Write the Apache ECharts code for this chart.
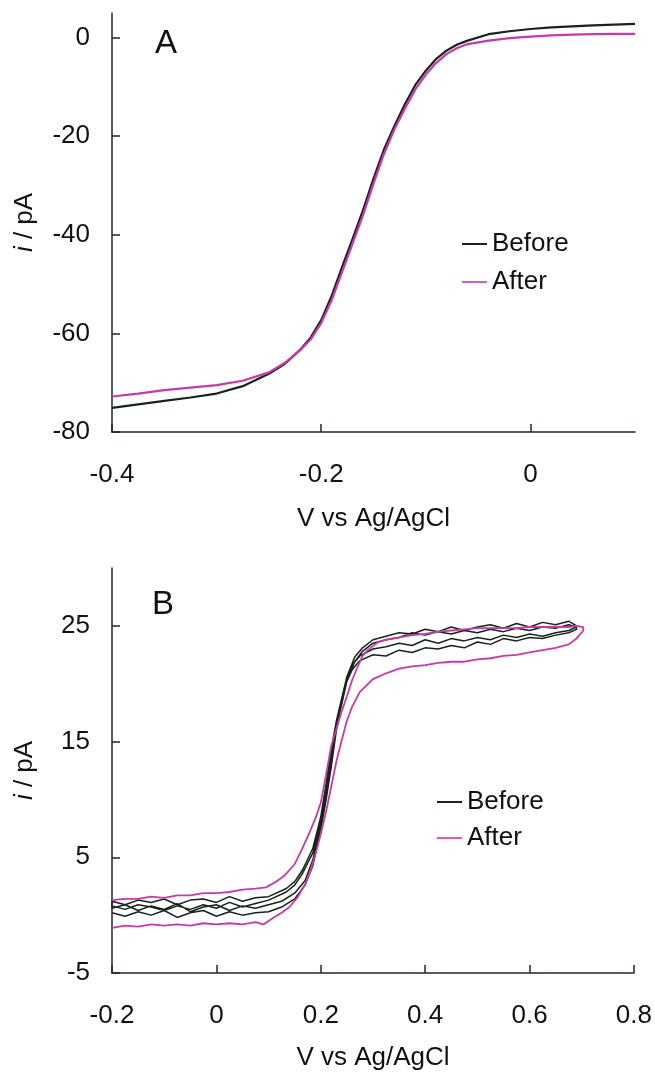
<!DOCTYPE html>
<html>
<head>
<meta charset="utf-8">
<script src="https://cdn.jsdelivr.net/npm/echarts@6/dist/echarts.min.js"></script>
<style>
  html, body { margin: 0; padding: 0; background: #fff; }
  #main { width: 655px; height: 1072px; }
</style>
</head>
<body>
<div id="main"></div>
<script>
// panel A: steady-state voltammogram, [V, i]
const beforeA = [
  [-0.4, -75.1], [-0.375, -74.4], [-0.35, -73.7], [-0.325, -73.0], [-0.3, -72.2],
  [-0.275, -70.7], [-0.25, -68.2], [-0.235, -66.2], [-0.22, -63.3], [-0.21, -60.8],
  [-0.2, -57.3], [-0.19, -52.4], [-0.18, -46.5], [-0.17, -40.8], [-0.16, -35.0],
  [-0.15, -28.6], [-0.14, -22.7], [-0.13, -17.9], [-0.12, -13.5], [-0.11, -9.6],
  [-0.1, -6.7], [-0.09, -4.3], [-0.08, -2.6], [-0.07, -1.4], [-0.06, -0.6],
  [-0.04, 0.7], [-0.02, 1.3], [0, 1.75], [0.02, 2.1], [0.04, 2.3],
  [0.06, 2.5], [0.08, 2.65], [0.1, 2.8]
]
const afterA = [
  [-0.4, -72.8], [-0.375, -72.2], [-0.35, -71.5], [-0.325, -71.0], [-0.3, -70.5],
  [-0.275, -69.6], [-0.25, -67.9], [-0.235, -66.0], [-0.22, -63.4], [-0.21, -61.2],
  [-0.2, -57.9], [-0.19, -53.3], [-0.18, -47.5], [-0.17, -41.8], [-0.16, -36.0],
  [-0.15, -29.6], [-0.14, -23.6], [-0.13, -18.6], [-0.12, -14.4], [-0.11, -10.5],
  [-0.1, -7.5], [-0.09, -5.1], [-0.08, -3.3], [-0.07, -2.1], [-0.06, -1.3],
  [-0.04, -0.6], [-0.02, -0.1], [0, 0.2], [0.02, 0.45], [0.04, 0.6],
  [0.06, 0.7], [0.08, 0.75], [0.1, 0.75]
]

// panel B: cyclic scans, forward then reverse
const beforeFwd1 = [
  [-0.2, 0.2], [-0.175, -0.1], [-0.15, 0.3], [-0.125, 0.0], [-0.1, 0.4], [-0.075, -0.2],
  [-0.05, 0.2], [-0.025, 0.4], [0, -0.1], [0.025, 0.3], [0.05, 0.0], [0.075, 0.2], [0.1, 0.3],
  [0.125, 0.7], [0.15, 1.4], [0.17, 2.6], [0.185, 4.3], [0.2, 7.4], [0.21, 9.9], [0.22, 12.8],
  [0.23, 16.0], [0.24, 18.3], [0.25, 20.2], [0.26, 21.2], [0.275, 22.0],
  [0.3, 22.5], [0.325, 22.4], [0.35, 22.9], [0.375, 22.7], [0.4, 23.1], [0.425, 23.0],
  [0.45, 23.3], [0.475, 23.1], [0.5, 23.6], [0.525, 23.4], [0.55, 23.9], [0.575, 23.7],
  [0.6, 24.0], [0.625, 23.9], [0.65, 24.2], [0.675, 24.4], [0.69, 24.7]
]
const beforeRev1 = [
  [0.69, 25.0], [0.675, 25.4], [0.65, 25.1], [0.625, 25.3], [0.6, 24.9], [0.575, 25.2],
  [0.55, 24.8], [0.525, 25.1], [0.5, 24.9], [0.475, 24.6], [0.45, 24.9], [0.425, 24.5],
  [0.4, 24.7], [0.375, 24.3], [0.35, 24.4], [0.325, 24.1], [0.3, 23.8],
  [0.28, 23.1], [0.265, 22.3], [0.25, 20.6], [0.24, 18.7], [0.23, 16.8], [0.22, 14.3],
  [0.21, 11.3], [0.2, 8.5], [0.185, 5.8], [0.165, 3.9], [0.15, 2.9], [0.134, 2.3], [0.1, 1.6],
  [0.075, 1.5], [0.05, 1.2], [0.025, 1.6], [0, 1.1], [-0.025, 1.4], [-0.05, 1.3],
  [-0.075, 0.9], [-0.1, 1.4], [-0.125, 1.1], [-0.15, 1.3], [-0.175, 0.9], [-0.2, 1.2]
]
const beforeFwd2 = [
  [-0.2, 0.6], [-0.175, 0.9], [-0.15, 0.4], [-0.125, 0.8], [-0.1, 0.5], [-0.075, 1.0],
  [-0.05, 0.3], [-0.025, 0.7], [0, 0.9], [0.025, 0.4], [0.05, 0.8], [0.075, 0.6], [0.1, 0.9],
  [0.125, 1.2], [0.15, 1.9], [0.17, 3.0], [0.185, 4.8], [0.2, 7.9], [0.21, 10.6], [0.22, 13.5],
  [0.23, 16.4], [0.24, 18.6], [0.25, 20.5], [0.26, 21.6], [0.275, 22.4],
  [0.3, 23.0], [0.325, 23.2], [0.35, 23.5], [0.375, 23.3], [0.4, 23.8], [0.425, 23.5],
  [0.45, 23.9], [0.475, 23.7], [0.5, 24.0], [0.525, 23.8], [0.55, 24.2], [0.575, 24.0],
  [0.6, 24.3], [0.625, 24.1], [0.65, 24.4], [0.675, 24.6], [0.69, 24.9]
]
const beforeRev2 = [
  [0.69, 24.9], [0.675, 25.1], [0.65, 24.8], [0.625, 24.9], [0.6, 24.6], [0.575, 24.8],
  [0.55, 24.5], [0.525, 24.7], [0.5, 24.4], [0.475, 24.6], [0.45, 24.3], [0.425, 24.5],
  [0.4, 24.2], [0.375, 24.4], [0.35, 24.0], [0.325, 23.8], [0.3, 23.5],
  [0.28, 22.8], [0.265, 21.9], [0.25, 20.2], [0.24, 18.2], [0.23, 16.3], [0.22, 13.8],
  [0.21, 10.8], [0.2, 8.1], [0.185, 5.4], [0.165, 3.6], [0.15, 2.6], [0.134, 2.0], [0.1, 1.3],
  [0.075, 1.0], [0.05, 0.7], [0.025, 1.1], [0, 0.6], [-0.025, 0.9], [-0.05, 0.5],
  [-0.075, 0.8], [-0.1, 0.4], [-0.125, 0.7], [-0.15, 0.9], [-0.175, 0.5], [-0.2, 0.8]
]
const afterFwd = [
  [-0.2, -1.1], [-0.175, -0.9], [-0.15, -1.0], [-0.125, -0.8], [-0.1, -0.9], [-0.075, -0.8],
  [-0.05, -0.9], [-0.025, -0.7], [0, -0.8], [0.025, -0.7], [0.05, -0.8], [0.075, -0.6],
  [0.09, -0.8], [0.1, -0.5], [0.11, -0.2], [0.125, 0.2], [0.14, 0.7], [0.155, 1.5],
  [0.17, 2.7], [0.18, 3.8], [0.19, 5.3], [0.2, 7.0], [0.21, 8.9], [0.22, 11.1],
  [0.23, 13.3], [0.24, 15.1], [0.25, 16.8], [0.26, 18.0], [0.275, 19.3],
  [0.3, 20.4], [0.325, 20.9], [0.35, 21.3], [0.375, 21.5], [0.4, 21.6], [0.425, 21.8],
  [0.45, 21.9], [0.475, 21.9], [0.5, 22.1], [0.525, 22.2], [0.55, 22.4], [0.575, 22.5],
  [0.6, 22.7], [0.625, 22.9], [0.65, 23.1], [0.675, 23.4], [0.69, 23.9], [0.703, 24.6]
]
const afterRev = [
  [0.703, 24.9], [0.69, 25.0], [0.675, 24.9], [0.65, 24.9], [0.625, 24.9], [0.6, 24.9],
  [0.575, 24.8], [0.55, 24.8], [0.525, 24.8], [0.5, 24.8], [0.475, 24.7], [0.45, 24.6],
  [0.425, 24.5], [0.4, 24.3], [0.375, 24.2], [0.35, 24.0], [0.325, 23.8], [0.31, 23.6],
  [0.29, 22.9], [0.28, 22.4], [0.27, 21.4], [0.26, 20.3], [0.25, 18.9], [0.24, 17.6],
  [0.23, 16.1], [0.22, 14.6], [0.21, 12.1], [0.2, 9.7], [0.19, 8.4], [0.18, 7.3],
  [0.165, 5.8], [0.15, 4.4], [0.13, 3.4], [0.115, 2.9], [0.095, 2.4], [0.075, 2.3],
  [0.05, 2.2], [0.025, 2.0], [0, 1.9], [-0.025, 1.9], [-0.05, 1.7], [-0.075, 1.7],
  [-0.1, 1.5], [-0.125, 1.6], [-0.15, 1.4], [-0.175, 1.4], [-0.2, 1.3]
]

const xTicksA = [-0.4, -0.2, 0]
const yTicksA = [-80, -60, -40, -20, 0]
const xTicksB = [-0.2, 0, 0.2, 0.4, 0.6, 0.8]
const yTicksB = [-5, 5, 15, 25]

const FONT = 'Liberation Sans'
const FS = 26
const AXIS_COLOR = '#1d2b22'
const BLACK = '#17241b'
const PINK = '#c93aa6'

const chart = echarts.init(document.getElementById('main'))

function xAxisOf (grid, min, max, ticks) {
  return {
    type: 'value',
    gridIndex: grid,
    min: min,
    max: max,
    name: 'V vs Ag/AgCl',
    nameLocation: 'middle',
    nameGap: grid === 0 ? 74 : 72,
    nameTextStyle: { fontFamily: FONT, fontSize: FS, color: '#111' },
    axisLine: { onZero: false, lineStyle: { color: AXIS_COLOR, width: 1.5 } },
    axisTick: { inside: true, length: 8, customValues: ticks, lineStyle: { color: AXIS_COLOR, width: 1.5 } },
    axisLabel: {
      customValues: ticks,
      margin: 30,
      fontFamily: FONT,
      fontSize: FS,
      color: '#111',
      formatter: v => String(Math.round(v * 10) / 10)
    },
    splitLine: { show: false }
  }
}

function yAxisOf (grid, min, max, ticks) {
  return {
    type: 'value',
    gridIndex: grid,
    min: min,
    max: max,
    name: '{it|i} / pA',
    nameLocation: 'middle',
    nameGap: 74,
    nameTextStyle: {
      fontFamily: FONT,
      fontSize: FS,
      color: '#111',
      rich: { it: { fontFamily: FONT, fontSize: FS, fontStyle: 'italic', color: '#111' } }
    },
    axisLine: { onZero: false, lineStyle: { color: AXIS_COLOR, width: 1.5 } },
    axisTick: { inside: true, length: 8, customValues: ticks, lineStyle: { color: AXIS_COLOR, width: 1.5 } },
    axisLabel: { customValues: ticks, margin: 22, fontFamily: FONT, fontSize: FS, color: '#111' },
    splitLine: { show: false }
  }
}

function lineOf (name, data, grid, color, width) {
  return {
    name: name,
    type: 'line',
    xAxisIndex: grid,
    yAxisIndex: grid,
    data: data,
    symbol: 'none',
    showSymbol: false,
    smooth: false,
    color: color,
    lineStyle: { color: color, width: width }
  }
}

function legendOf (left, top, gap) {
  return {
    data: [
      { name: 'Before', itemStyle: { color: BLACK } },
      { name: 'After', itemStyle: { color: '#dc5cb8' } }
    ],
    orient: 'vertical',
    left: left,
    top: top,
    padding: 0,
    icon: 'rect',
    itemWidth: 25,
    itemHeight: 2,
    itemGap: gap,
    textStyle: { fontFamily: FONT, fontSize: FS, color: '#111', lineHeight: 26 }
  }
}

chart.setOption({
  animation: false,
  backgroundColor: '#fff',
  textStyle: { fontFamily: FONT },
  title: [
    { text: 'A', left: 155, top: 27, padding: 0, textStyle: { fontFamily: FONT, fontSize: 33, fontWeight: 'normal', color: '#111' } },
    { text: 'B', left: 152, top: 588, padding: 0, textStyle: { fontFamily: FONT, fontSize: 33, fontWeight: 'normal', color: '#111' } }
  ],
  legend: [
    legendOf(462, 231, 12),
    legendOf(437, 789, 10)
  ],
  grid: [
    { left: 112, width: 523, top: 13, height: 419 },
    { left: 112, width: 523, top: 568, height: 405 }
  ],
  xAxis: [
    xAxisOf(0, -0.4, 0.1, xTicksA),
    xAxisOf(1, -0.2, 0.8, xTicksB)
  ],
  yAxis: [
    yAxisOf(0, -80, 5, yTicksA),
    yAxisOf(1, -5, 30, yTicksB)
  ],
  series: [
    lineOf('Before', beforeA, 0, BLACK, 2.2),
    lineOf('After', afterA, 0, PINK, 2.2),
    lineOf('Before', beforeFwd1.concat(beforeRev1, beforeFwd2, beforeRev2), 1, BLACK, 1.5),
    lineOf('After', afterFwd.concat(afterRev), 1, PINK, 1.8)
  ]
})
</script>
</body>
</html>
